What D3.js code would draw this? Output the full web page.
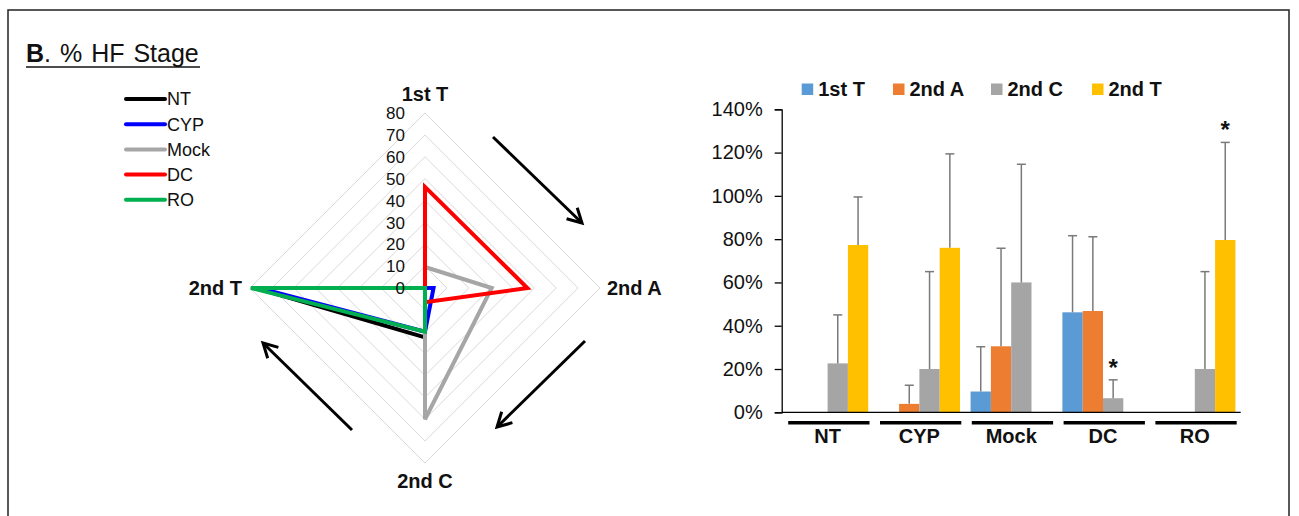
<!DOCTYPE html>
<html>
<head>
<meta charset="utf-8">
<script src="https://cdn.jsdelivr.net/npm/d3@7"></script>
<style>
  html, body { margin: 0; padding: 0; background: #fff; }
  svg { display: block; font-family: "Liberation Sans", Arial, sans-serif; }
</style>
</head>
<body>
<svg id="chart" width="1299" height="516"></svg>
<script>
// Hair-follicle stages and treatment groups
const stages = ["1st T", "2nd A", "2nd C", "2nd T"];
const groups = ["NT", "CYP", "Mock", "DC", "RO"];

// Mean % of follicles at each stage, per group (order follows `groups`)
const firstT  = [0, 0, 9.6, 46.2, 0];
const secondA = [0, 3.9, 30.5, 46.8, 0];
const secondC = [22.6, 20, 60, 6.5, 20];
const secondT = [77.3, 76, 0, 0, 79.6];

// Upper error bar length (SD), same order
const sdFirstT  = [0, 0, 20.7, 35.4, 0];
const sdSecondA = [0, 8.6, 45.3, 34.3, 0];
const sdSecondC = [22.4, 45, 54.6, 8.5, 45];
const sdSecondT = [22.2, 43.4, 0, 0, 45.1];

// Significance marks: [group, stage]
const starMarks = [["DC", "2nd C"], ["RO", "2nd T"]];

// Radar axis ticks
const radarTicks = [0, 10, 20, 30, 40, 50, 60, 70, 80];
// Bar chart y ticks (fractions)
const barTicks = [0, 0.2, 0.4, 0.6, 0.8, 1.0, 1.2, 1.4];

const groupColors = { NT: "#000000", CYP: "#0000ff", Mock: "#a6a6a6", DC: "#ff0000", RO: "#00b050" };
const stageColors = { "1st T": "#5b9bd5", "2nd A": "#ed7d31", "2nd C": "#a5a5a5", "2nd T": "#ffc000" };

const stageMeans = [firstT, secondA, secondC, secondT];
const stageSds = [sdFirstT, sdSecondA, sdSecondC, sdSecondT];

// long-form rows
const rows = [];
groups.forEach((g, gi) => stages.forEach((s, si) => {
  rows.push({ group: g, stage: s, value: stageMeans[si][gi], sd: stageSds[si][gi] });
}));

const svg = d3.select("#chart");

// ---------- frame and title ----------
svg.append("rect").attr("x", 8).attr("y", 10).attr("width", 1281).attr("height", 530)
  .attr("fill", "none").attr("stroke", "#222").attr("stroke-width", 1.5);

const title = svg.append("text").attr("x", 26).attr("y", 62).attr("font-size", 25)
  .attr("fill", "#111").style("word-spacing", "2px");
title.append("tspan").attr("font-weight", "bold").text("B");
title.append("tspan").text(". % HF Stage");
svg.append("line").attr("x1", 26).attr("x2", 200).attr("y1", 67).attr("y2", 67)
  .attr("stroke", "#111").attr("stroke-width", 1.6);

// ---------- radar chart ----------
const cx = 425, cy = 288;
const r = d3.scaleLinear().domain([0, 80]).range([0, 175]);
const angle = d3.scalePoint().domain(stages).range([0, 2 * Math.PI * 3 / 4]);

const radar = svg.append("g").attr("transform", `translate(${cx},${cy})`);

// diamond grid
const gridLine = d3.lineRadial().angle(d => angle(d)).curve(d3.curveLinearClosed);
radar.append("g").selectAll("path").data(radarTicks.filter(t => t > 0)).join("path")
  .attr("d", t => gridLine.radius(() => r(t))(stages))
  .attr("fill", "none").attr("stroke", "#d9d9d9").attr("stroke-width", 1);

// series polygons
const seriesLine = d3.lineRadial()
  .angle(d => angle(d.stage)).radius(d => r(d.value)).curve(d3.curveLinearClosed);
radar.append("g").selectAll("path").data(groups).join("path")
  .attr("d", g => seriesLine(rows.filter(d => d.group === g)))
  .attr("fill", "none").attr("stroke", g => groupColors[g])
  .attr("stroke-width", 4).attr("stroke-linejoin", "miter");

// tick labels along the top axis
radar.append("g").selectAll("text").data(radarTicks).join("text")
  .attr("x", -20).attr("y", t => -r(t)).attr("dy", "0.36em")
  .attr("text-anchor", "end").attr("font-size", 17).attr("fill", "#111")
  .text(t => t);

// stage labels
const labelPos = {
  "1st T": { x: 0, y: -187, anchor: "middle" },
  "2nd A": { x: 182, y: 7, anchor: "start" },
  "2nd C": { x: 0, y: 200, anchor: "middle" },
  "2nd T": { x: -183, y: 7, anchor: "end" }
};
radar.append("g").selectAll("text").data(stages).join("text")
  .attr("x", s => labelPos[s].x).attr("y", s => labelPos[s].y)
  .attr("text-anchor", s => labelPos[s].anchor)
  .attr("font-size", 20).attr("font-weight", "bold").attr("fill", "#111")
  .text(s => s);

// cycle arrows
const arrows = [
  [[493, 137], [582, 223]],
  [[585, 341], [497, 427]],
  [[352, 430], [263, 343]]
];
const arrowG = svg.append("g").attr("stroke", "#000").attr("stroke-width", 3)
  .attr("fill", "none").attr("stroke-linecap", "butt");
arrows.forEach(([a, b]) => {
  arrowG.append("line").attr("x1", a[0]).attr("y1", a[1]).attr("x2", b[0]).attr("y2", b[1]);
  const th = Math.atan2(b[1] - a[1], b[0] - a[0]);
  const len = 16, spread = 0.5;
  const pts = [th + Math.PI - spread, th + Math.PI + spread].map(t => [b[0] + len * Math.cos(t), b[1] + len * Math.sin(t)]);
  arrowG.append("path").attr("d", `M${pts[0][0]},${pts[0][1]}L${b[0]},${b[1]}L${pts[1][0]},${pts[1][1]}`)
    .attr("stroke-linejoin", "miter");
});

// radar legend
const rl = svg.append("g").attr("transform", "translate(126,99)");
const rlItem = rl.selectAll("g").data(groups).join("g")
  .attr("transform", (g, i) => `translate(0,${i * 25.2})`);
rlItem.append("line").attr("x1", 0).attr("x2", 39).attr("y1", 0).attr("y2", 0)
  .attr("stroke", g => groupColors[g]).attr("stroke-width", 4).attr("stroke-linecap", "round");
rlItem.append("text").attr("x", 41).attr("y", 0).attr("dy", "0.36em")
  .attr("font-size", 18).attr("fill", "#111").text(g => g);

// ---------- grouped bar chart ----------
const plotLeft = 781.7, plotRight = 1240.7, plotTop = 109.3, plotBottom = 412.3;
const x0 = d3.scaleBand().domain(groups).range([plotLeft, plotRight]).paddingInner(0).paddingOuter(0);
const inset = x0.bandwidth() * 0.0577;
const x1 = d3.scaleBand().domain(stages).range([inset, x0.bandwidth() - inset]).padding(0);
const y = d3.scaleLinear().domain([0, 1.4]).range([plotBottom, plotTop]);

const bars = svg.append("g");
bars.selectAll("rect").data(rows.filter(d => d.value > 0)).join("rect")
  .attr("x", d => x0(d.group) + x1(d.stage))
  .attr("width", x1.bandwidth())
  .attr("y", d => y(d.value / 100))
  .attr("height", d => plotBottom - y(d.value / 100))
  .attr("fill", d => stageColors[d.stage]);

// error bars (upper only)
const errs = svg.append("g").attr("stroke", "#7a7a7a").attr("stroke-width", 1.5);
rows.filter(d => d.sd > 0).forEach(d => {
  const xc = x0(d.group) + x1(d.stage) + x1.bandwidth() / 2;
  const yTop = y((d.value + d.sd) / 100);
  errs.append("line").attr("x1", xc).attr("x2", xc).attr("y1", y(d.value / 100)).attr("y2", yTop);
  errs.append("line").attr("x1", xc - 4.5).attr("x2", xc + 4.5).attr("y1", yTop).attr("y2", yTop);
});

// significance asterisks
starMarks.forEach(([g, s]) => {
  const d = rows.find(r0 => r0.group === g && r0.stage === s);
  const xc = x0(g) + x1(s) + x1.bandwidth() / 2;
  svg.append("text").attr("x", xc).attr("y", y((d.value + d.sd) / 100) - 4)
    .attr("text-anchor", "middle").attr("font-size", 24).attr("font-weight", "bold")
    .attr("fill", "#111").text("*");
});

// y axis
const yAxis = svg.append("g").attr("transform", `translate(${plotLeft},0)`)
  .call(d3.axisLeft(y).tickValues(barTicks).tickFormat(d3.format(".0%")).tickSize(7).tickPadding(12));
yAxis.select(".domain").attr("stroke", "#000").attr("stroke-width", 1.3);
yAxis.selectAll(".tick line").attr("stroke", "#000").attr("stroke-width", 1.3);
yAxis.selectAll(".tick text").attr("font-size", 20).attr("fill", "#111")
  .attr("font-family", "Liberation Sans, Arial, sans-serif");

// x baseline
svg.append("line").attr("x1", plotLeft).attr("x2", plotRight).attr("y1", plotBottom).attr("y2", plotBottom)
  .attr("stroke", "#000").attr("stroke-width", 1.3);

// group underlines and labels
const cat = svg.append("g");
cat.selectAll("line").data(groups).join("line")
  .attr("x1", g => x0(g) + 6.5).attr("x2", g => x0(g) + x0.bandwidth() - 4)
  .attr("y1", 422.7).attr("y2", 422.7).attr("stroke", "#000").attr("stroke-width", 3.5);
cat.selectAll("text").data(groups).join("text")
  .attr("x", g => x0(g) + x0.bandwidth() / 2).attr("y", 443)
  .attr("text-anchor", "middle").attr("font-size", 20).attr("font-weight", "bold")
  .attr("fill", "#111").text(g => g);

// bar legend
const legendX = [801.7, 893, 991, 1092];
const bl = svg.append("g");
stages.forEach((s, i) => {
  bl.append("rect").attr("x", legendX[i]).attr("y", 83.5).attr("width", 11.5).attr("height", 11.5)
    .attr("fill", stageColors[s]);
  bl.append("text").attr("x", legendX[i] + 16.5).attr("y", 96).attr("font-size", 20)
    .attr("font-weight", "bold").attr("fill", "#111").text(s);
});
</script>
</body>
</html>
